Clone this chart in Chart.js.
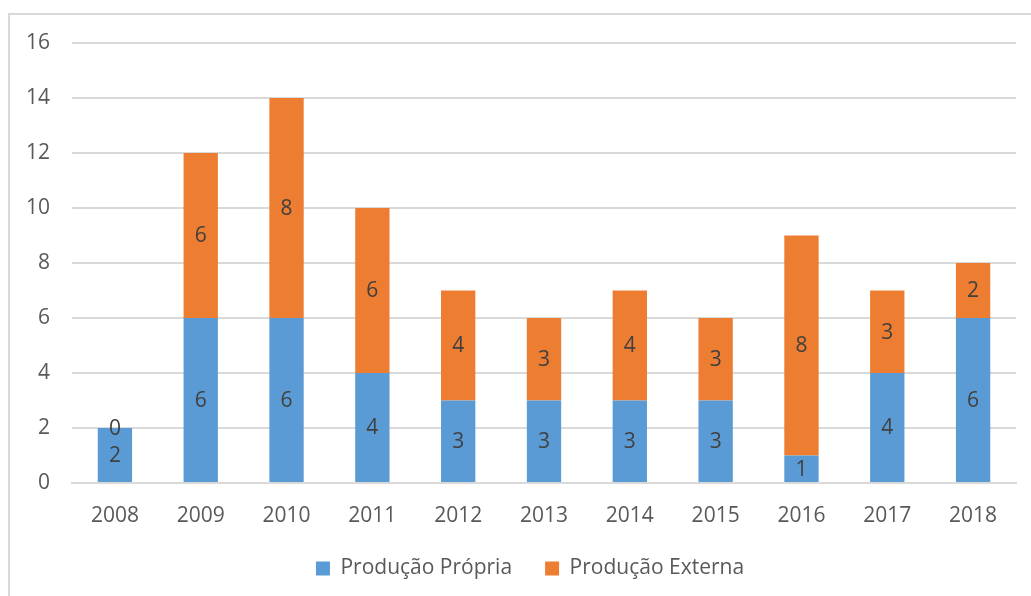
<!DOCTYPE html>
<html>
<head>
<meta charset="utf-8">
<script src="https://cdn.jsdelivr.net/npm/chart.js@4"></script>
<style>
    html, body { margin: 0; padding: 0; background: #fff; }
    #wrap { position: relative; width: 1031px; height: 596px; }
</style>
</head>
<body>
<div id="wrap"><canvas id="chart"></canvas></div>
<script>
// chart data
const years = ['2008', '2009', '2010', '2011', '2012', '2013', '2014', '2015', '2016', '2017', '2018'];
const producaoPropria = [2, 6, 6, 4, 3, 3, 3, 3, 1, 4, 6];
const producaoExterna = [0, 6, 8, 6, 4, 3, 4, 3, 8, 3, 2];
const yTicks = [0, 2, 4, 6, 8, 10, 12, 14, 16];

const fontFamily = "'Open Sans', sans-serif";

// light frame around the chart (top and left edges only visible)
const framePlugin = {
    id: 'frame',
    beforeDraw(chart) {
        const ctx = chart.ctx;
        ctx.save();
        ctx.strokeStyle = '#d9d9d9';
        ctx.lineWidth = 2;
        ctx.beginPath();
        ctx.moveTo(9, chart.height);
        ctx.lineTo(9, 14);
        ctx.lineTo(chart.width, 14);
        ctx.stroke();
        ctx.restore();
    }
};

// wide gap between legend items, but keep the legend box short
// and nudge it a bit to the right like the original
const legendTweak = {
    id: 'legendTweak',
    afterInit(chart) {
        const lg = chart.legend;
        if (!lg) return;
        const fit = lg.fit.bind(lg);
        lg.fit = function() {
            fit();
            this.height = 58;
        };
    },
    afterLayout(chart) {
        const lg = chart.legend;
        if (!lg) return;
        lg.left += 17;
        lg.right += 17;
    }
};

// value labels in the middle of each bar segment
const valueLabels = {
    id: 'valueLabels',
    afterDatasetsDraw(chart) {
        const ctx = chart.ctx;
        ctx.save();
        ctx.font = '21px ' + fontFamily;
        ctx.fillStyle = '#404040';
        ctx.textAlign = 'center';
        ctx.textBaseline = 'middle';
        chart.data.datasets.forEach((ds, i) => {
            chart.getDatasetMeta(i).data.forEach((bar, j) => {
                const mid = (bar.y + bar.base) / 2;
                ctx.fillText(String(ds.data[j]), bar.x, mid + 1);
            });
        });
        ctx.restore();
    }
};

new Chart(document.getElementById('chart'), {
    type: 'bar',
    data: {
        labels: years,
        datasets: [
            {
                label: 'Produção Própria',
                data: producaoPropria,
                backgroundColor: '#5b9bd5',
                barPercentage: 0.4,
                categoryPercentage: 1
            },
            {
                label: 'Produção Externa',
                data: producaoExterna,
                backgroundColor: '#ed7d31',
                barPercentage: 0.4,
                categoryPercentage: 1
            }
        ]
    },
    options: {
        responsive: true,
        maintainAspectRatio: false,
        animation: false,
        layout: {
            padding: { top: 43, left: 10, right: 15, bottom: 13 }
        },
        plugins: {
            tooltip: { enabled: false },
            legend: {
                position: 'bottom',
                labels: {
                    boxWidth: 14,
                    boxHeight: 14,
                    padding: 33,
                    color: '#595959',
                    font: { family: fontFamily, size: 21 }
                }
            }
        },
        scales: {
            x: {
                stacked: true,
                grid: { display: false, drawTicks: false },
                border: { display: true, color: '#d9d9d9', width: 2 },
                ticks: {
                    color: '#595959',
                    padding: 20,
                    font: { family: fontFamily, size: 21 }
                },
                afterFit(scale) { scale.height = 42; }
            },
            y: {
                stacked: true,
                min: 0,
                max: 16,
                afterBuildTicks(scale) {
                    scale.ticks = yTicks.map(v => ({ value: v }));
                },
                grid: { color: '#d9d9d9', lineWidth: 2, drawTicks: false },
                border: { display: false },
                ticks: {
                    color: '#595959',
                    padding: 22,
                    font: { family: fontFamily, size: 21 }
                },
                afterFit(scale) { scale.width = 62; }
            }
        }
    },
    plugins: [framePlugin, legendTweak, valueLabels]
});
</script>
</body>
</html>
